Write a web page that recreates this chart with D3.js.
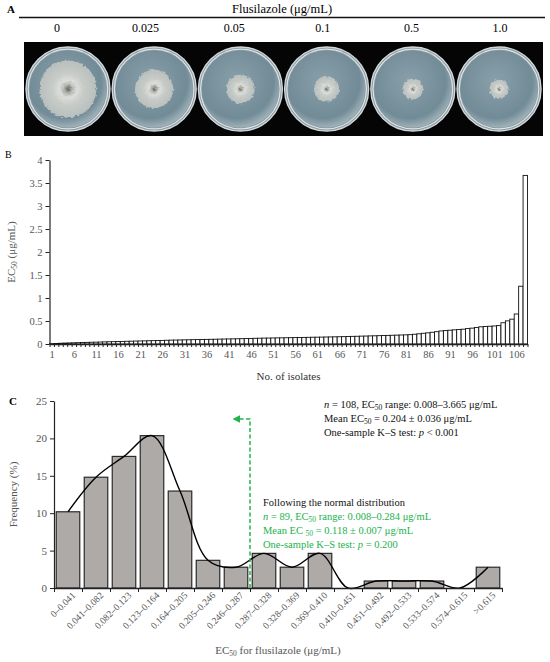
<!DOCTYPE html>
<html>
<head>
<meta charset="utf-8">
<script src="https://cdn.jsdelivr.net/npm/d3@7"></script>
<style>
  html, body { margin: 0; padding: 0; background: #fff; }
  svg { display: block; font-family: "Liberation Serif", "DejaVu Serif", serif; }
  .axis path, .axis line { stroke: #222; }
  .axis text { fill: #555; font-family: "Liberation Serif", serif; }
</style>
</head>
<body>
<script>
// ---- panel A: flusilazole concentrations and colony size (fraction of plate) ----
const concs = ["0", "0.025", "0.05", "0.1", "0.5", "1.0"];
const colonyFrac = [0.74, 0.50, 0.37, 0.33, 0.27, 0.25];

// ---- panel B: EC50 of each isolate, sorted (µg/mL) ----
const ec50 = [
  0.008, 0.012, 0.016, 0.020, 0.023, 0.026, 0.029, 0.032, 0.035, 0.038, 0.040,
  0.043, 0.046, 0.049, 0.051, 0.054, 0.056, 0.059, 0.061, 0.064, 0.066, 0.068, 0.071, 0.073, 0.076, 0.078, 0.081,
  0.084, 0.086, 0.088, 0.090, 0.092, 0.094, 0.096, 0.098, 0.100, 0.102, 0.104, 0.106, 0.108, 0.110, 0.112, 0.114, 0.116, 0.118, 0.121,
  0.124, 0.126, 0.128, 0.129, 0.131, 0.133, 0.134, 0.136, 0.138, 0.139, 0.141, 0.143, 0.145, 0.147, 0.148, 0.150, 0.152, 0.154, 0.156, 0.158, 0.160, 0.163,
  0.166, 0.168, 0.171, 0.173, 0.176, 0.178, 0.181, 0.184, 0.187, 0.190, 0.193, 0.196, 0.199, 0.203,
  0.212, 0.222, 0.233, 0.243,
  0.255, 0.268, 0.284,
  0.292, 0.300, 0.308, 0.315, 0.322,
  0.335, 0.345, 0.360,
  0.374, 0.380, 0.386, 0.392, 0.400,
  0.462, 0.503, 0.540,
  0.652, 1.256, 3.665
];
const bTicks = [0, 0.5, 1, 1.5, 2, 2.5, 3, 3.5, 4];

// ---- panel C: frequency distribution of EC50 ----
const bins = ["0–0.041", "0.041–0.082", "0.082–0.123", "0.123–0.164", "0.164–0.205",
  "0.205–0.246", "0.246–0.287", "0.287–0.328", "0.328–0.369", "0.369–0.410",
  "0.410–0.451", "0.451–0.492", "0.492–0.533", "0.533–0.574", "0.574–0.615", ">0.615"];
const freq = [10.19, 14.81, 17.59, 20.37, 12.96, 3.70, 2.78, 4.63, 2.78, 4.63, 0, 0.93, 0.93, 0.93, 0, 2.78];
const cTicks = [0, 5, 10, 15, 20, 25];
const normalCut = 7;      // bins left of this follow the normal distribution
const arrowLevel = 22.6;  // frequency level of the green arrow

const green = "#22b24c";
const W = 550, H = 662;

const svg = d3.select("body").append("svg")
  .attr("width", W).attr("height", H);

const defs = svg.append("defs");

// subscript helper: small "50" a little below the baseline
function sub(t, s) {
  t.append("tspan").attr("dy", 2).style("font-size", "7.5px").text(s);
  return t.append("tspan").attr("dy", -2);
}

// ======================= Panel A =======================
svg.append("text").attr("x", 7).attr("y", 13)
  .style("font-size", "11px").style("font-weight", "bold").text("A");

svg.append("text").attr("x", 282).attr("y", 13).attr("text-anchor", "middle")
  .style("font-size", "12.5px").text("Flusilazole (μg/mL)");

svg.append("line").attr("x1", 19).attr("x2", 545).attr("y1", 17.5).attr("y2", 17.5)
  .attr("stroke", "#111").attr("stroke-width", 1.3);

const xLab = d3.scalePoint().domain(concs).range([57, 500]);
svg.append("g").selectAll("text").data(concs).join("text")
  .attr("x", d => xLab(d)).attr("y", 32).attr("text-anchor", "middle")
  .style("font-size", "12px").text(d => d);

// photo background
const photo = {x0: 24, x1: 543, y0: 42, y1: 136};
svg.append("rect").attr("x", photo.x0).attr("y", photo.y0)
  .attr("width", photo.x1 - photo.x0).attr("height", photo.y1 - photo.y0)
  .attr("fill", "#050505");

// gradients / filters for the plates
const agar = defs.append("radialGradient").attr("id", "agar")
  .attr("cx", "45%").attr("cy", "40%").attr("r", "60%");
agar.append("stop").attr("offset", "0%").attr("stop-color", "#89a0aa");
agar.append("stop").attr("offset", "80%").attr("stop-color", "#718b97");
agar.append("stop").attr("offset", "100%").attr("stop-color", "#9fb1b8");

const colony = defs.append("radialGradient").attr("id", "colony");
colony.append("stop").attr("offset", "0%").attr("stop-color", "#5f5c57");
colony.append("stop").attr("offset", "12%").attr("stop-color", "#a9aaa4");
colony.append("stop").attr("offset", "30%").attr("stop-color", "#dcdeda");
colony.append("stop").attr("offset", "55%").attr("stop-color", "#c8ccc8");
colony.append("stop").attr("offset", "100%").attr("stop-color", "#b8bfbd");

const fuzz = defs.append("filter").attr("id", "fuzz")
  .attr("x", "-20%").attr("y", "-20%").attr("width", "140%").attr("height", "140%");
fuzz.append("feTurbulence").attr("type", "fractalNoise")
  .attr("baseFrequency", 0.35).attr("numOctaves", 2).attr("result", "noise");
fuzz.append("feDisplacementMap").attr("in", "SourceGraphic").attr("in2", "noise")
  .attr("scale", 4).attr("xChannelSelector", "R").attr("yChannelSelector", "G");

const xPlate = d3.scaleBand().domain(concs).range([photo.x0, photo.x1]).paddingInner(0.0).paddingOuter(0.01);
const plateR = 42, agarR = 38.5;
const plateCy = (photo.y0 + photo.y1) / 2;

const plates = svg.append("g").selectAll("g").data(concs).join("g")
  .attr("transform", d => `translate(${xPlate(d) + xPlate.bandwidth() / 2},${plateCy})`);

plates.append("circle").attr("r", plateR).attr("fill", "#8a9aa1")
  .attr("stroke", "#d0d8db").attr("stroke-width", 1.4);
plates.append("circle").attr("r", plateR - 2.2).attr("fill", "none")
  .attr("stroke", "#dde3e6").attr("stroke-width", 1.2);
plates.append("circle").attr("r", agarR).attr("fill", "url(#agar)");
plates.append("circle").attr("r", (d, i) => colonyFrac[i] * agarR)
  .attr("fill", "url(#colony)").attr("filter", "url(#fuzz)");

// ======================= Panel B =======================
const bTop = 160, bBottom = 344, bLeft = 49.5, bRight = 527.5;
const isolates = ec50.map((d, i) => i + 1);

const xB = d3.scaleBand().domain(isolates).range([bLeft, bRight]).padding(0);
const yB = d3.scaleLinear().domain([0, 4]).range([bBottom, bTop]);

svg.append("text").attr("x", 5).attr("y", 158)
  .style("font-size", "10px").text("B");

svg.append("g").selectAll("rect").data(ec50).join("rect")
  .attr("x", (d, i) => xB(isolates[i]))
  .attr("y", d => yB(d))
  .attr("width", xB.bandwidth())
  .attr("height", d => yB(0) - yB(d))
  .attr("fill", "#fff").attr("stroke", "#111").attr("stroke-width", 0.9);

// y axis
svg.append("g").attr("class", "axis").attr("transform", `translate(${bLeft},0)`)
  .call(d3.axisLeft(yB).tickValues(bTicks).tickSize(4).tickSizeOuter(0).tickFormat(d3.format("")))
  .call(g => g.selectAll("text").style("font-size", "10.5px"))
  .call(g => g.select(".domain").attr("stroke-width", 1.2));

// x axis: one tick per bar boundary, label every 5 isolates
const xBnum = d3.scaleLinear().domain([0.5, ec50.length + 0.5]).range([bLeft, bRight]);
svg.append("g").attr("class", "axis").attr("transform", `translate(0,${bBottom})`)
  .call(d3.axisBottom(xBnum).tickValues(d3.range(0.5, ec50.length + 1, 1)).tickSize(3).tickSizeOuter(0).tickFormat(""))
  .call(g => g.select(".domain").attr("stroke-width", 1.4));
svg.append("g").attr("class", "axis").attr("transform", `translate(0,${bBottom})`)
  .call(d3.axisBottom(xBnum).tickValues(isolates.filter(d => d % 5 === 1)).tickSize(0).tickPadding(7))
  .call(g => g.select(".domain").remove())
  .call(g => g.selectAll("text").style("font-size", "10.5px"));

svg.append("text").attr("x", (bLeft + bRight) / 2).attr("y", 380).attr("text-anchor", "middle")
  .style("font-size", "11px").attr("fill", "#333").text("No. of  isolates");

svg.append("text").attr("transform", `translate(15,${(bTop + bBottom) / 2}) rotate(-90)`)
  .attr("text-anchor", "middle").style("font-size", "11px").attr("fill", "#555")
  .call(t => {
    t.append("tspan").text("EC");
    sub(t, "50").text(" (μg/mL)");
  });

// ======================= Panel C =======================
const cTop = 401, cBottom = 588, cLeft = 54, cRight = 502;
const xC = d3.scaleBand().domain(bins).range([cLeft, cRight]).paddingInner(0.16).paddingOuter(0.08);
const xCnum = d3.scaleLinear().domain([0, bins.length]).range([cLeft, cRight]);
const yC = d3.scaleLinear().domain([0, 25]).range([cBottom, cTop]);

svg.append("text").attr("x", 9).attr("y", 405)
  .style("font-size", "11px").style("font-weight", "bold").text("C");

svg.append("g").selectAll("rect").data(freq).join("rect")
  .attr("x", (d, i) => xC(bins[i]))
  .attr("y", d => yC(d))
  .attr("width", xC.bandwidth())
  .attr("height", d => yC(0) - yC(d))
  .attr("fill", "#aeaaa7").attr("stroke", "#2b2b2b").attr("stroke-width", 1.2);

// fitted curve through bar tops
const curve = d3.line()
  .x((d, i) => xCnum(i + 0.5))
  .y(d => yC(d))
  .curve(d3.curveCatmullRom.alpha(0.5));
svg.append("path").datum(freq).attr("d", curve)
  .attr("fill", "none").attr("stroke", "#000").attr("stroke-width", 1.4);

svg.append("g").attr("class", "axis").attr("transform", `translate(${cLeft},0)`)
  .call(d3.axisLeft(yC).tickValues(cTicks).tickSize(4).tickSizeOuter(0))
  .call(g => g.selectAll("text").style("font-size", "11px"))
  .call(g => g.select(".domain").attr("stroke-width", 1.2));

svg.append("g").attr("class", "axis").attr("transform", `translate(0,${cBottom})`)
  .call(d3.axisBottom(xCnum).tickValues(d3.range(bins.length + 1)).tickSize(4).tickSizeOuter(0).tickFormat(""))
  .call(g => g.select(".domain").attr("stroke-width", 1.4));

svg.append("g").selectAll("text").data(bins).join("text")
  .attr("transform", d => `translate(${xC(d) + xC.bandwidth() / 2 + 8},${cBottom + 8}) rotate(-45)`)
  .attr("text-anchor", "end").attr("fill", "#555")
  .style("font-size", "9.5px").text(d => d);

svg.append("text").attr("x", (cLeft + cRight) / 2).attr("y", 654).attr("text-anchor", "middle")
  .style("font-size", "11px").attr("fill", "#555")
  .call(t => {
    t.append("tspan").text("EC");
    sub(t, "50").text(" for flusilazole (μg/mL)");
  });

svg.append("text").attr("transform", `translate(17,${(cTop + cBottom) / 2}) rotate(-90)`)
  .attr("text-anchor", "middle").style("font-size", "11px").attr("fill", "#555")
  .text("Frequency (%)");

// green cut-off arrow
defs.append("marker").attr("id", "arrow").attr("viewBox", "0 0 10 10")
  .attr("refX", 8).attr("refY", 5).attr("markerWidth", 5).attr("markerHeight", 5)
  .attr("orient", "auto")
  .append("path").attr("d", "M0,0L10,5L0,10z").attr("fill", green);

const cutX = xCnum(normalCut);
svg.append("path")
  .attr("d", d3.line()([[cutX, yC(0)], [cutX, yC(arrowLevel)], [cutX - 16, yC(arrowLevel)]]))
  .attr("fill", "none").attr("stroke", green).attr("stroke-width", 1.5)
  .attr("stroke-dasharray", "4,2.5").attr("marker-end", "url(#arrow)");

// annotation blocks
const note = svg.append("g").style("font-size", "10.5px").attr("fill", "#111");
note.append("text").attr("x", 324).attr("y", 408).call(t => {
  t.append("tspan").style("font-style", "italic").text("n");
  t.append("tspan").text(" = 108, EC");
  sub(t, "50").text(" range: 0.008–3.665 μg/mL");
});
note.append("text").attr("x", 324).attr("y", 422).call(t => {
  t.append("tspan").text("Mean EC");
  sub(t, "50").text(" = 0.204 ± 0.036 μg/mL");
});
note.append("text").attr("x", 324).attr("y", 436).call(t => {
  t.append("tspan").text("One-sample K–S test: ");
  t.append("tspan").style("font-style", "italic").text("p");
  t.append("tspan").text(" < 0.001");
});

const note2 = svg.append("g").style("font-size", "10.5px");
note2.append("text").attr("x", 263).attr("y", 506).attr("fill", "#111")
  .text("Following the normal distribution");
note2.append("text").attr("x", 263).attr("y", 520).attr("fill", green).call(t => {
  t.append("tspan").style("font-style", "italic").text("n");
  t.append("tspan").text(" = 89, EC");
  sub(t, "50").text(" range: 0.008–0.284 μg/mL");
});
note2.append("text").attr("x", 263).attr("y", 534).attr("fill", green).call(t => {
  t.append("tspan").text("Mean EC ");
  sub(t, "50").text(" = 0.118 ± 0.007 μg/mL");
});
note2.append("text").attr("x", 263).attr("y", 548).attr("fill", green).call(t => {
  t.append("tspan").text("One-sample K–S test: ");
  t.append("tspan").style("font-style", "italic").text("p");
  t.append("tspan").text(" = 0.200");
});
</script>
</body>
</html>
